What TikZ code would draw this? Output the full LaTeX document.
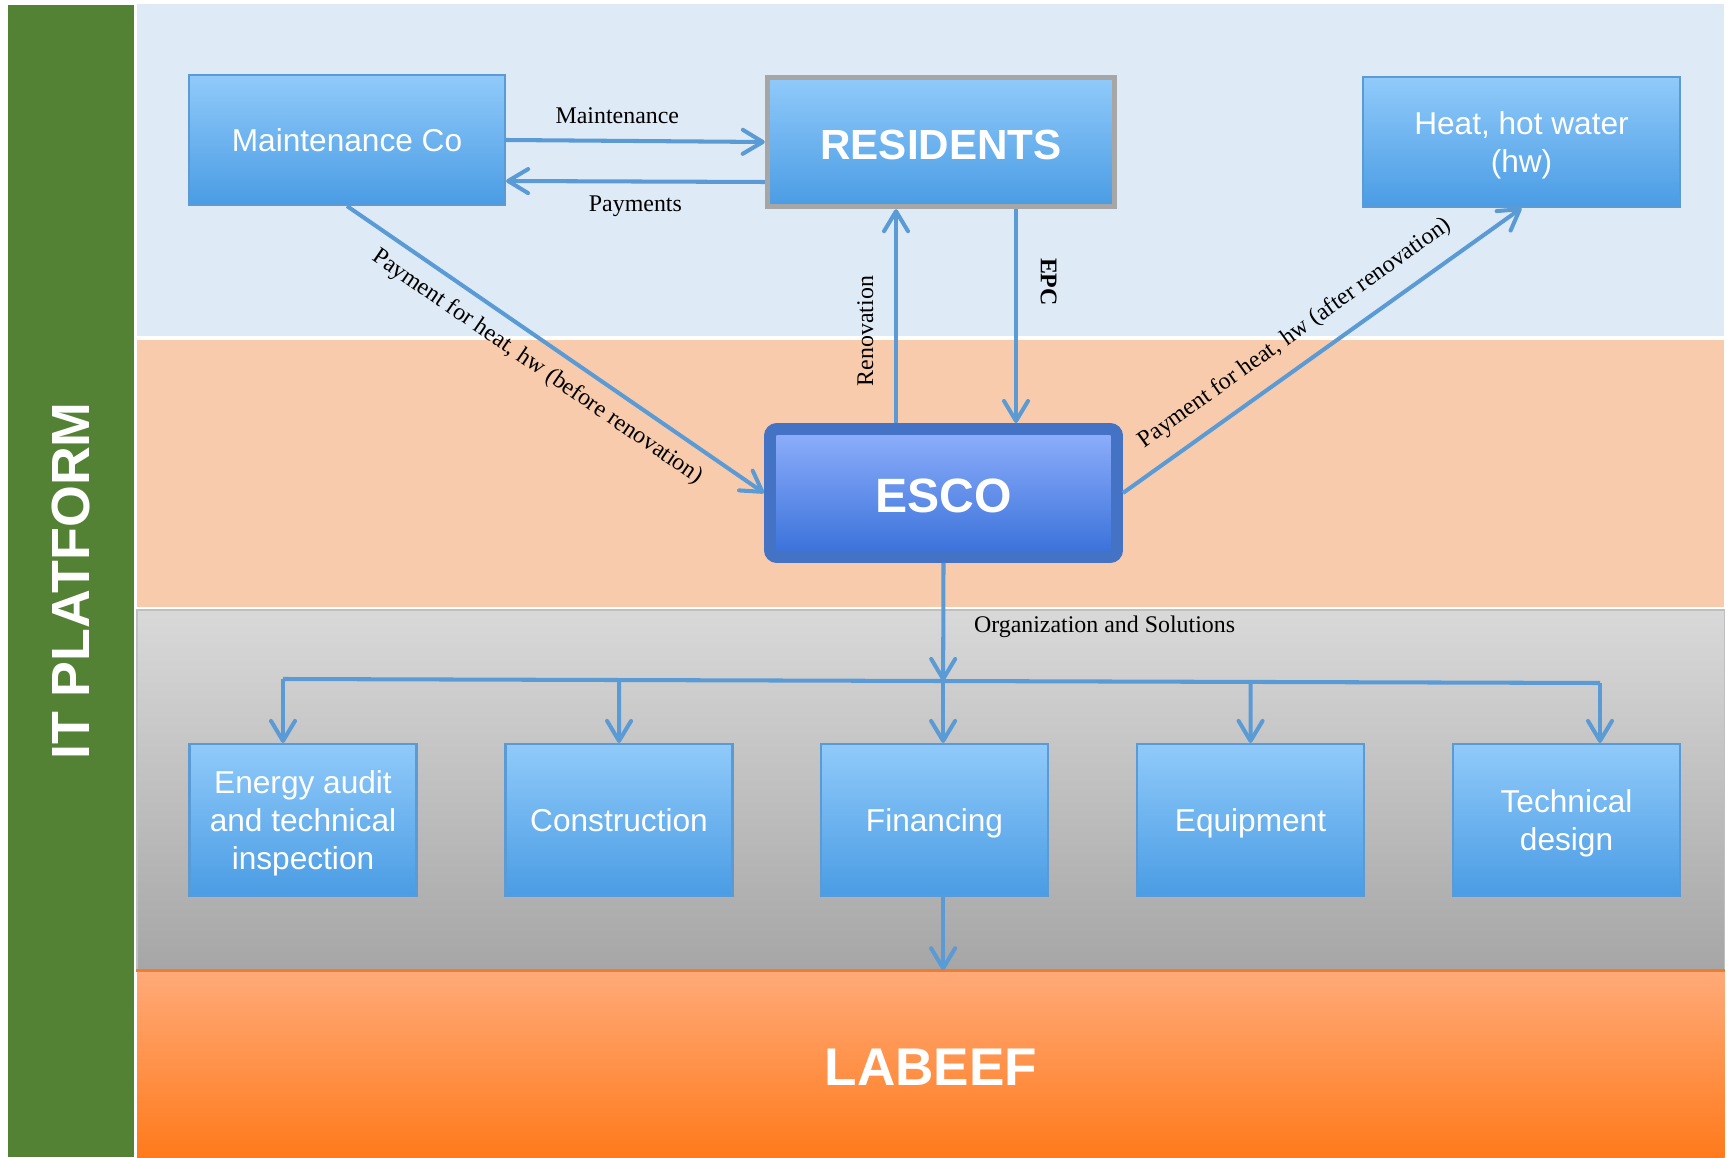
\documentclass[tikz,border=0pt]{standalone}
\usepackage{fontspec}
\setmainfont{Liberation Serif}
\setsansfont{Liberation Sans}
\usepackage{tikz}
\usetikzlibrary{arrows.meta,calc}
\definecolor{itgreen}{RGB}{84,130,53}
\definecolor{topband}{RGB}{222,234,246}
\definecolor{midband}{RGB}{248,203,173}
\definecolor{flowblue}{RGB}{91,155,213}
\definecolor{boxtop}{RGB}{144,202,250}
\definecolor{boxbot}{RGB}{74,156,228}
\definecolor{escotop}{RGB}{143,175,252}
\definecolor{escobot}{RGB}{56,112,217}
\definecolor{escoline}{RGB}{68,114,196}
\definecolor{labtop}{RGB}{255,170,120}
\definecolor{labbot}{RGB}{255,122,28}
\definecolor{labline}{RGB}{237,125,49}
\tikzset{
	box/.style={draw=flowblue, line width=0.6pt, top color=boxtop, bottom color=boxbot, text=white, align=center, inner sep=1pt,
		text depth=0pt, font=\sffamily\fontsize{9}{10.8}\selectfont, minimum width=2.27cm, minimum height=1.52cm},
	flow/.style={draw=flowblue, line width=1.15pt, -{Straight Barb[length=2mm, width=2.4mm, round]}},
	tag/.style={font=\fontsize{6.8}{8}\selectfont, text=black}
}

\begin{document}
\begin{tikzpicture}
			%%%%% START %%%%%
			\useasboundingbox (0, 0) rectangle (17.27, 11.57);
			\fill[itgreen] (0.077, 0) rectangle (1.344, 11.517);
			\fill[topband] (1.37, 8.21) rectangle (17.24, 11.53);
			\fill[midband] (1.37, 5.50) rectangle (17.24, 8.17);
			\draw[black!25, top color=black!15, bottom color=black!35] (1.37, 1.86) rectangle (17.245, 5.47);
			\node[rotate=90, text=white, font=\sffamily\bfseries\fontsize{15.3}{18}\selectfont] (itp) at (0.71, 5.76) {IT PLATFORM};
			
			\node[top color=labtop, bottom color=labbot, inner sep=0pt, minimum width=15.875cm, minimum height=1.86cm, text height=12.2pt,
				text=white, font=\sffamily\bfseries\fontsize{15.1}{18}\selectfont] (labeef) at (9.3075, 0.93) {LABEEF};
			\draw[labline, line width=0.7pt] (labeef.north west) -- (labeef.north east);
			
			\node[box, minimum width=3.16cm, minimum height=1.30cm] (maint) at (3.47, 10.17) {Maintenance Co};
			\node[box, draw=black!35, line width=1.55pt, minimum width=3.47cm, minimum height=1.29cm, text height=9.8pt,
				font=\sffamily\bfseries\fontsize{12}{14}\selectfont] (resid) at (9.41, 10.15) {RESIDENTS};
			\node[box, minimum width=3.17cm, minimum height=1.30cm] (heat) at (15.215, 10.15) {Heat, hot water\\(hw)};
			\node[box, draw=escoline, line width=3.4pt, rounded corners=2pt, top color=escotop, bottom color=escobot, text height=11.1pt,
				minimum width=3.47cm, minimum height=1.28cm, font=\sffamily\bfseries\fontsize{13.7}{16}\selectfont] (esco) at (9.435, 6.64) {ESCO};
			
			\node[box] (audit) at (3.03, 3.37) {Energy audit\\and technical\\inspection};
			\node[box] (constr) at (6.19, 3.37) {Construction};
			\node[box] (fin) at (9.345, 3.37) {Financing};
			\node[box] (equip) at (12.505, 3.37) {Equipment};
			\node[box] (tech) at (15.665, 3.37) {Technical\\design};
			
			\coordinate (busL) at (2.83, 4.78);
			\coordinate (busR) at (16.00, 4.74);
			\coordinate (trunk) at ($(busL)!(esco.south)!(busR)$);
			\coordinate (ren) at (8.96, 0);
			\coordinate (epc) at (10.16, 0);
			
			\draw[flow] (maint.east) -- node[tag, above=0.35mm, pos=0.43] (lmaint) {Maintenance} (resid.west);
			\draw[flow] ([yshift=-4mm]resid.west) -- node[tag, below=0.1mm] (lpay) {Payments} ([yshift=-4.1mm]maint.east);
			\draw[flow] (maint.south) -- node[tag, sloped, below, pos=0.49] (lbefore) {Payment for heat, hw (before renovation)} (esco.west);
			\draw[flow] (esco.east) -- node[tag, sloped, above=0.5mm, pos=0.475] (lafter) {Payment for heat, hw (after renovation)} (heat.south);
			\draw[flow] (ren |- esco.north) -- node[tag, sloped, above=0.9mm, pos=0.43] (lren) {Renovation} (ren |- resid.south);
			\draw[flow] (epc |- resid.south) -- node[tag, sloped, above=1.1mm, pos=0.34] (lepc) {\bfseries EPC} (epc |- esco.north);
			\draw[flow] (esco.south) -- node[tag, right=1.7mm, pos=0.54] (lorg) {Organization and Solutions} (trunk);
			
			\draw[draw=flowblue, line width=1.15pt] (busL) -- (busR);
			\draw[flow] (busL) -- (busL |- audit.north);
			\draw[flow] ($(busL)!(constr.north)!(busR)$) -- (constr.north);
			\draw[flow] (trunk) -- (trunk |- fin.north);
			\draw[flow] ($(busL)!(equip.north)!(busR)$) -- (equip.north);
			\draw[flow] (busR) -- (busR |- tech.north);
			\draw[flow] (trunk |- fin.south) -- (trunk |- labeef.north);
			%%%%% END %%%%%
\end{tikzpicture}
\end{document}
